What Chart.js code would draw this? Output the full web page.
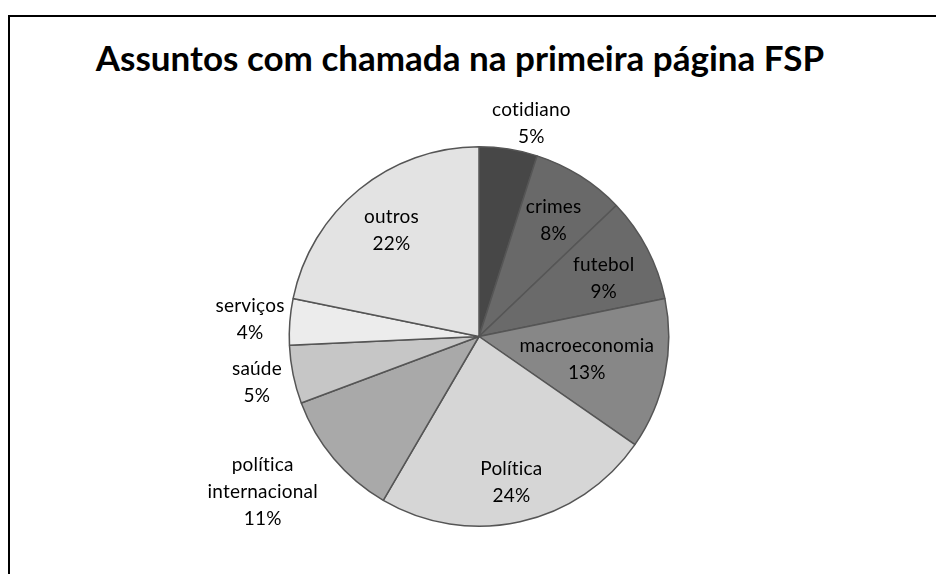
<!DOCTYPE html>
<html lang="pt">
<head>
    <meta charset="UTF-8">
    <title>Assuntos com chamada na primeira página FSP</title>
    <script src="https://cdn.jsdelivr.net/npm/chart.js"></script>
    <style>
        body {
            margin: 0;
            padding: 0;
            width: 936px;
            height: 574px;
            overflow: hidden;
            background: #fff;
            position: relative;
        }

        .moldura {
            position: absolute;
            left: 8px;
            top: 15px;
            width: 1000px;
            height: 1000px;
            border-top: 2px solid #000;
            border-left: 2px solid #000;
        }

        .titulo {
            position: absolute;
            left: 0;
            width: 920px;
            top: 36px;
            text-align: center;
            font-family: Lato, sans-serif;
            font-weight: bold;
            font-size: 35px;
            line-height: 42px;
            color: #000;
        }

        .grafico {
            position: absolute;
            left: 0;
            top: 0;
            width: 936px;
            height: 574px;
        }
    </style>
</head>
<body>

<div class="moldura"></div>
<div class="titulo">Assuntos com chamada na primeira página FSP</div>
<div class="grafico">
    <canvas id="pizza"></canvas>
</div>

<script>
    // assuntos e percentuais
    const assuntos = ["cotidiano", "crimes", "futebol", "macroeconomia", "Política",
        "política internacional", "saúde", "serviços", "outros"];
    const percentuais = [5, 8, 9, 13, 24, 11, 5, 4, 22];

    const cores = ["#474747", "#696969", "#6a6a6a", "#878787", "#d6d6d6",
        "#a9a9a9", "#c6c6c6", "#ececec", "#e3e3e3"];

    // linhas de cada rótulo (nome quebrado como no gráfico)
    const linhasRotulo = [["cotidiano"], ["crimes"], ["futebol"], ["macroeconomia"], ["Política"],
        ["política", "internacional"], ["saúde"], ["serviços"], ["outros"]];

    // distância do rótulo ao centro (fração do raio) e ajuste fino em px
    const posRotulo = [
        [1.17, 18, 6], [0.74, 0, 3], [0.73, 2, 6], [0.58, 0, 1], [0.79, 0, 0],
        [1.38, -16, -13], [1.2, 1, 0], [1.21, 0, 1], [0.73, 0, 1]
    ];

    const rotulosPlugin = {
        id: "rotulos",
        afterDatasetsDraw(chart) {
            const ctx = chart.ctx;
            const arcos = chart.getDatasetMeta(0).data;
            ctx.save();
            ctx.font = "19px Lato, sans-serif";
            ctx.letterSpacing = "0.2px"; // evita a ligadura "ti"
            ctx.fillStyle = "#000";
            ctx.textAlign = "center";
            ctx.textBaseline = "middle";
            arcos.forEach((arco, i) => {
                const p = arco.getProps(["x", "y", "startAngle", "endAngle", "outerRadius"], true);
                const meio = (p.startAngle + p.endAngle) / 2;
                const d = p.outerRadius * posRotulo[i][0];
                const cx = p.x + Math.cos(meio) * d + posRotulo[i][1];
                const cy = p.y + Math.sin(meio) * d + posRotulo[i][2];
                const linhas = linhasRotulo[i].concat([percentuais[i] + "%"]);
                const altura = 27;
                const topo = cy - (linhas.length - 1) * altura / 2;
                linhas.forEach((txt, k) => ctx.fillText(txt, cx, topo + k * altura));
            });
            ctx.restore();
        }
    };

    new Chart(document.getElementById("pizza").getContext("2d"), {
        type: "pie",
        data: {
            labels: assuntos,
            datasets: [{
                data: percentuais,
                backgroundColor: cores,
                borderColor: "#555555",
                borderWidth: 1.5
            }]
        },
        options: {
            responsive: true,
            maintainAspectRatio: false,
            animation: false,
            layout: {
                padding: { top: 146, bottom: 47, left: 22, right: 0 }
            },
            plugins: {
                legend: { display: false },
                title: { display: false },
                tooltip: { enabled: false }
            }
        },
        plugins: [rotulosPlugin]
    });
</script>
</body>
</html>
